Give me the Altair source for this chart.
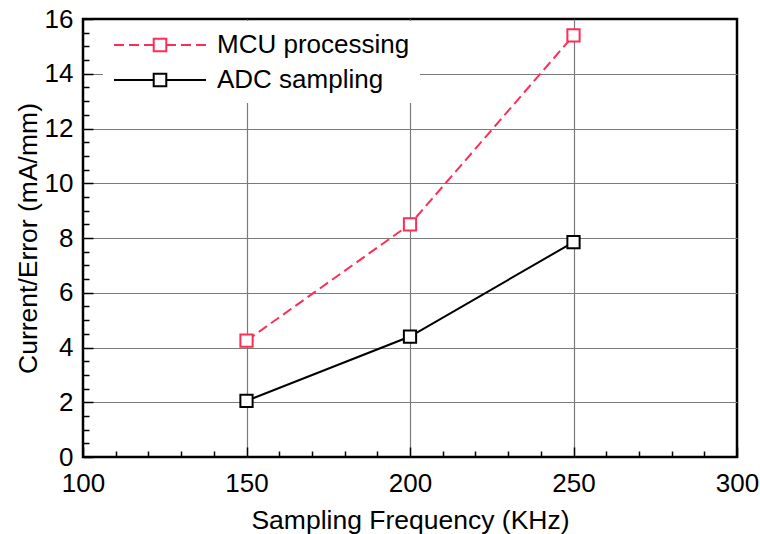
import altair as alt
import pandas as pd

# ---- data ----
freq = [150, 200, 250]
mcu_current = [4.25, 8.5, 15.4]
adc_current = [2.05, 4.4, 7.85]
series_names = ["MCU processing", "ADC sampling"]

x_major = [100, 150, 200, 250, 300]
x_minor = list(range(100, 301, 10))
y_major = [0, 2, 4, 6, 8, 10, 12, 14, 16]
y_minor = [v / 2 for v in range(0, 33)]

rows = []
for f, v in zip(freq, mcu_current):
    rows.append({"freq": f, "value": v, "series": series_names[0]})
for f, v in zip(freq, adc_current):
    rows.append({"freq": f, "value": v, "series": series_names[1]})
df = pd.DataFrame(rows)

W, H = 654, 438
FONT = "Liberation Sans"
RED = "#FF2D55"

# ---- legend symbol paths: nominal symbol box 26px, drawn line 92px wide ----
SYM_BOX = 26.0
HALF_LINE = 46.0
def u(px):
    return px / (SYM_BOX / 2)

sq = 6.3
square = f"M{-u(sq):.4f},{-u(sq):.4f}H{u(sq):.4f}V{u(sq):.4f}H{-u(sq):.4f}Z"
dash_segments = []
pos = -HALF_LINE
while pos < -sq - 0.5:
    end = min(pos + 10.0, -sq)
    dash_segments.append((pos, end))
    pos = end + 5.0
dashed = ""
for a, b in dash_segments:
    dashed += f"M{u(a):.4f},0H{u(b):.4f}"
    dashed += f"M{u(-b):.4f},0H{u(-a):.4f}"
path_mcu = dashed + square
path_adc = (f"M{u(-HALF_LINE):.4f},0H{-u(sq):.4f}"
            f"M{u(sq):.4f},0H{u(HALF_LINE):.4f}" + square)

xscale = alt.Scale(domain=[100, 300], nice=False, zero=False)
yscale = alt.Scale(domain=[0, 16], nice=False)

x_labels_axis = alt.Axis(
    orient="bottom", values=x_major, title="Sampling Frequency (KHz)",
    ticks=False, domain=False, grid=True,
    gridColor="#7a7a7a", gridWidth=1.2,
    gridOpacity={"condition": {"test": "datum.value > 100 && datum.value < 300", "value": 1}, "value": 0},
    labelFont=FONT, labelFontSize=26, labelColor="black", labelPadding=13,
    labelFlush=False,
    titleFont=FONT, titleFontSize=26.5, titleFontWeight="normal", titleColor="black",
    titleBaseline="alphabetic", titleY=71,
)
x_ticks_axis = alt.Axis(
    orient="top", offset=-H, values=x_minor, title=None, labels=False,
    domain=False, grid=False, ticks=True, tickColor="black", tickWidth=1.5,
    tickSize={"condition": {"test": "datum.value % 50 === 0", "value": 10}, "value": 6},
)
y_labels_axis = alt.Axis(
    orient="left", values=y_major, title="Current/Error (mA/mm)",
    ticks=False, domain=False, grid=True,
    gridColor="#7a7a7a", gridWidth=1.2,
    gridOpacity={"condition": {"test": "datum.value > 0 && datum.value < 16", "value": 1}, "value": 0},
    labelFont=FONT, labelFontSize=26, labelColor="black", labelPadding=10,
    labelFlush=False,
    titleFont=FONT, titleFontSize=26.5, titleFontWeight="normal", titleColor="black",
    titleBaseline="alphabetic", titleX=-47,
)
y_ticks_axis = alt.Axis(
    orient="right", offset=-W, values=y_minor, title=None, labels=False,
    domain=False, grid=False, ticks=True, tickColor="black", tickWidth=1.5,
    tickSize={"condition": {"test": "datum.value % 2 === 0", "value": 10}, "value": 6},
)

base = alt.Chart(df)

line_mcu = base.transform_filter(alt.datum.series == series_names[0]).mark_line(
    color=RED, strokeWidth=2, strokeDash=[10, 5]
).encode(
    x=alt.X("freq:Q", scale=xscale, axis=x_labels_axis),
    y=alt.Y("value:Q", scale=yscale, axis=y_labels_axis),
)
line_adc = base.transform_filter(alt.datum.series == series_names[1]).mark_line(
    color="black", strokeWidth=2
).encode(
    x=alt.X("freq:Q", scale=xscale, axis=x_ticks_axis),
    y=alt.Y("value:Q", scale=yscale, axis=y_ticks_axis),
)
pts_mcu = base.transform_filter(alt.datum.series == series_names[0]).mark_point(
    shape="square", filled=True, fill="white", stroke=RED, strokeWidth=2, size=150, opacity=1
).encode(
    x=alt.X("freq:Q", scale=xscale, axis=None),
    y=alt.Y("value:Q", scale=yscale, axis=None),
)
pts_adc = base.transform_filter(alt.datum.series == series_names[1]).mark_point(
    shape="square", filled=True, fill="white", stroke="black", strokeWidth=2, size=150, opacity=1
).encode(
    x=alt.X("freq:Q", scale=xscale, axis=None),
    y=alt.Y("value:Q", scale=yscale, axis=None),
)

legend = alt.Legend(
    title=None, orient="none", legendX=20, legendY=2, padding=10,
    fillColor="white",
    symbolSize=SYM_BOX * SYM_BOX, symbolStrokeWidth=2, symbolOpacity=1,
    symbolFillColor="transparent", symbolOffset=33,
    labelFont=FONT, labelFontSize=26, labelColor="black", labelOffset=43,
    rowPadding=8, labelLimit=400,
)
legend_layer = base.mark_point(opacity=0, filled=False).encode(
    x=alt.X("freq:Q", scale=xscale, axis=None),
    y=alt.Y("value:Q", scale=yscale, axis=None),
    stroke=alt.Stroke("series:N", scale=alt.Scale(domain=series_names, range=[RED, "black"]), legend=legend),
    shape=alt.Shape("series:N", scale=alt.Scale(domain=series_names, range=[path_mcu, path_adc]), legend=legend),
)

chart = alt.layer(line_mcu, line_adc, pts_mcu, pts_adc, legend_layer).resolve_axis(
    x="independent", y="independent"
).properties(
    width=W, height=H,
    autosize=alt.AutoSizeParams(type="none"),
    padding={"left": 83, "top": 19, "right": 23, "bottom": 77},
    background="white",
).configure_view(stroke="black", strokeWidth=2.5)

chart.save("out.html", embed_options={"renderer": "svg", "actions": False})
